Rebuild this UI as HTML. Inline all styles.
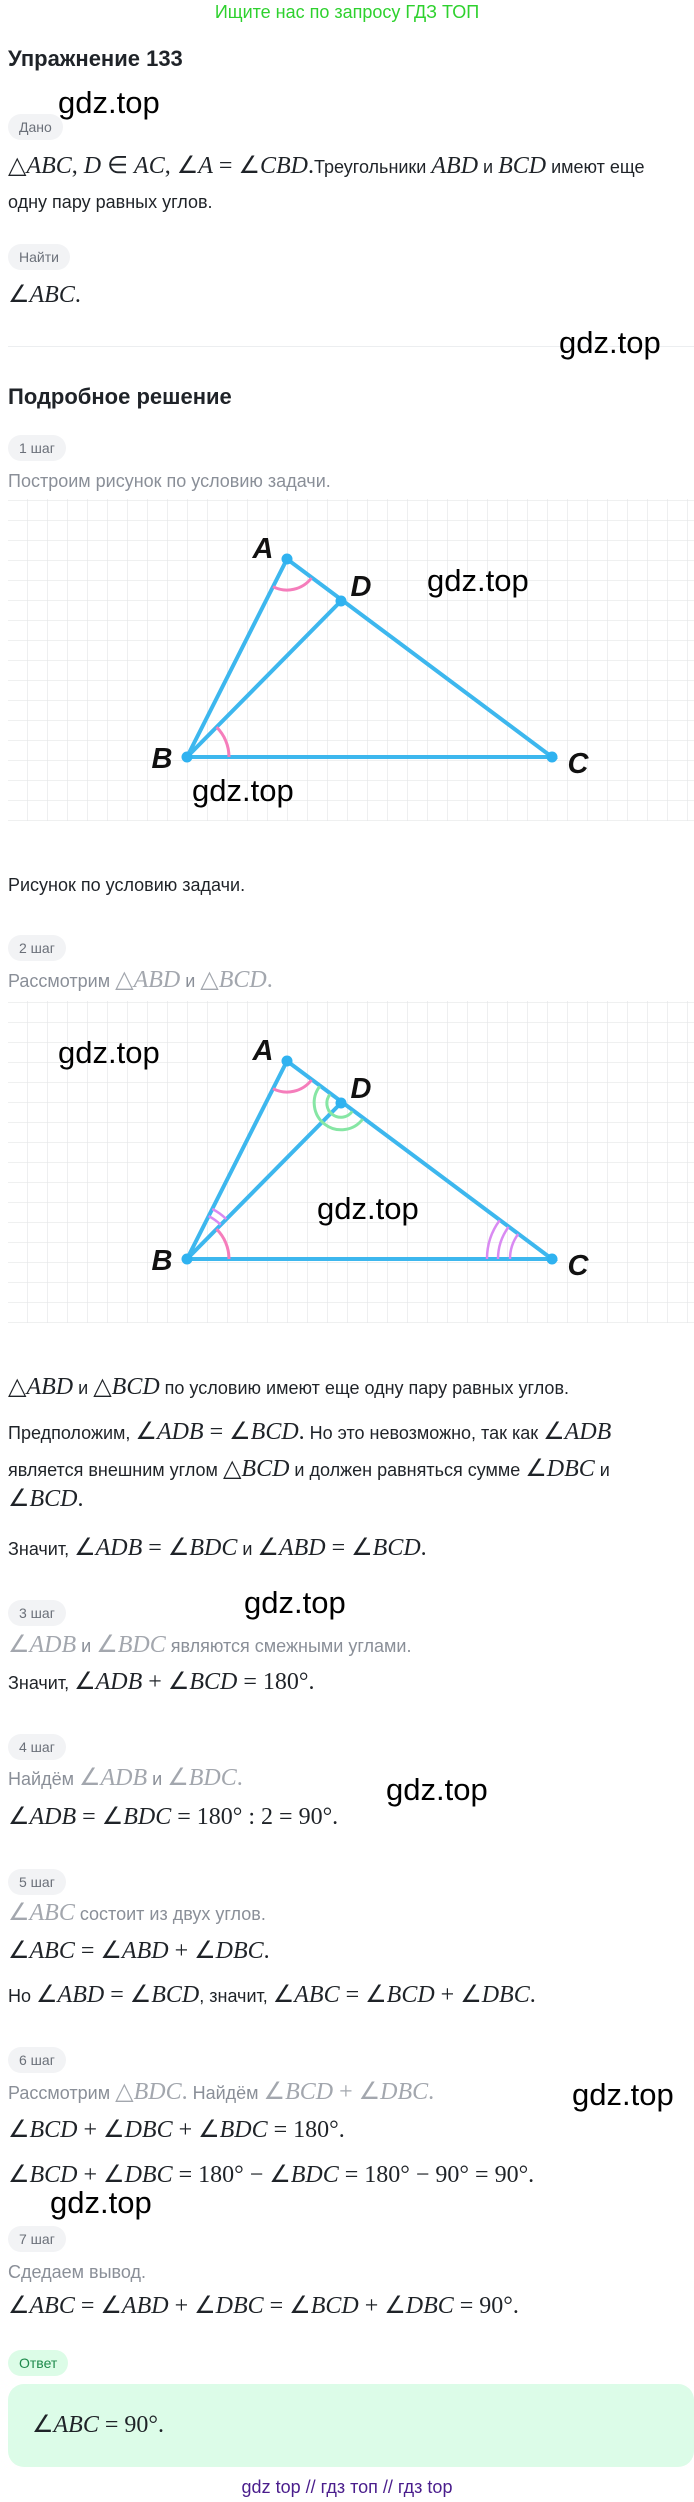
<!DOCTYPE html>
<html><head><meta charset="utf-8">
<style>
html,body{margin:0;padding:0;background:#fff;}
body{width:694px;height:2502px;position:relative;overflow:hidden;font-family:"Liberation Sans","DejaVu Sans",sans-serif;color:#1f2328;}
.l{position:absolute;left:8px;white-space:nowrap;line-height:30px;height:30px;font-size:18px;}
.g{color:#8a8f98;}
.g .m{color:#a3a7ae;}
.m{font-family:"Liberation Serif",serif;font-size:24px;}
.m i{font-style:italic;}
.pill{position:absolute;left:8px;height:26px;line-height:26px;border-radius:13px;background:#f2f3f5;color:#6b7079;font-size:14px;padding:0 11px;}
.wm{position:absolute;font-size:31px;color:#000;line-height:36px;white-space:nowrap;}
h1,h2{margin:0;position:absolute;left:8px;font-size:22px;font-weight:bold;line-height:30px;white-space:nowrap;}
svg{position:absolute;left:8px;}
</style></head><body>
<div style="position:absolute;top:0;left:0;width:694px;text-align:center;color:#2ed12e;font-size:18px;line-height:24px;">Ищите нас по запросу ГДЗ ТОП</div>
<h1 style="top:44px;">Упражнение 133</h1>
<div class="wm" style="left:58px;top:85px;">gdz.top</div>
<div class="pill" style="top:114px;">Дано</div>
<div class="l" style="top:151px;"><span class="m">△<i>ABC</i>, <i>D</i> ∈ <i>AC</i>, ∠<i>A</i> = ∠<i>CBD</i>.</span>Треугольники <span class="m"><i>ABD</i></span> и <span class="m"><i>BCD</i></span> имеют еще</div>
<div class="l" style="top:187px;">одну пару равных углов.</div>
<div class="pill" style="top:244px;">Найти</div>
<div class="l" style="top:280px;"><span class="m">∠<i>ABC</i>.</span></div>
<div style="position:absolute;left:8px;top:346px;width:686px;height:1px;background:#eceef0;"></div>
<div class="wm" style="left:559px;top:325px;">gdz.top</div>
<h2 style="top:382px;">Подробное решение</h2>
<div class="pill" style="top:435px;">1 шаг</div>
<div class="l g" style="top:466px;">Построим рисунок по условию задачи.</div>

<svg width="686" height="322" viewBox="8 499 686 322" style="top:499px;">
<defs><pattern id="gp" x="7" y="0" width="20" height="20" patternUnits="userSpaceOnUse"><path d="M0 0V20M0 0H20" stroke="#e5e6e8" stroke-width="1.3" fill="none"/></pattern></defs>
<rect x="8" y="499" width="686" height="322" fill="url(#gp)"/>
<g stroke="#3db7ee" stroke-width="4" stroke-linecap="round" fill="none">
<path d="M187 757L287 559L552 757Z M187 757L341 601"/></g>
<g stroke="#f57dbb" stroke-width="3" fill="none"><path d="M273 586.7A31 31 0 0 0 311.5 578"/><path d="M216.5 727.1A42 42 0 0 1 229 757"/></g>
<g fill="#2fb2f0"><circle cx="287" cy="559" r="5.5"/><circle cx="341" cy="601" r="5.5"/><circle cx="187" cy="757" r="5.5"/><circle cx="552" cy="757" r="5.5"/></g>
<g font-family="Liberation Sans,sans-serif" font-weight="bold" font-style="italic" font-size="29" fill="#111" text-anchor="middle"><text x="263" y="558">A</text><text x="361" y="596">D</text><text x="162" y="768">B</text><text x="578" y="773">C</text></g>
<g font-family="Liberation Sans,sans-serif" font-size="31" fill="#000"><text x="427" y="591">gdz.top</text><text x="192" y="801">gdz.top</text></g>
</svg>

<div class="l" style="top:870px;">Рисунок по условию задачи.</div>
<div class="pill" style="top:935px;">2 шаг</div>
<div class="l g" style="top:965px;">Рассмотрим <span class="m">△<i>ABD</i></span> и <span class="m">△<i>BCD</i>.</span></div>

<svg width="686" height="322" viewBox="8 499 686 322" style="top:1001px;">
<rect x="8" y="499" width="686" height="322" fill="url(#gp)"/>
<g stroke="#3db7ee" stroke-width="4" stroke-linecap="round" fill="none">
<path d="M187 757L287 559L552 757Z M187 757L341 601"/></g>
<g stroke="#f57dbb" stroke-width="3" fill="none"><path d="M273 586.7A31 31 0 0 0 311.5 578"/><path d="M216.5 727.1A42 42 0 0 1 229 757"/></g>
<g stroke="#d98af2" stroke-width="2.5" fill="none"><path d="M208.6 714.1A48 48 0 0 1 220.7 722.8"/><path d="M212.3 707A56 56 0 0 1 226.3 717.1"/>
<path d="M510 757A42 42 0 0 1 518.2 732"/><path d="M498 757A54 54 0 0 1 508.6 724.9"/><path d="M487 757A65 65 0 0 1 499.7 718.3"/></g>
<g stroke="#86e6a4" stroke-width="3" fill="none"><path d="M362.7 617.1A27 27 0 1 1 319.7 584.4"/><path d="M352.3 609.3A14 14 0 1 1 330 592.4"/></g>
<g fill="#2fb2f0"><circle cx="287" cy="559" r="5.5"/><circle cx="341" cy="601" r="5.5"/><circle cx="187" cy="757" r="5.5"/><circle cx="552" cy="757" r="5.5"/></g>
<g font-family="Liberation Sans,sans-serif" font-weight="bold" font-style="italic" font-size="29" fill="#111" text-anchor="middle"><text x="263" y="558">A</text><text x="361" y="596">D</text><text x="162" y="768">B</text><text x="578" y="773">C</text></g>
<g font-family="Liberation Sans,sans-serif" font-size="31" fill="#000"><text x="58" y="561">gdz.top</text><text x="317" y="717">gdz.top</text></g>
</svg>

<div class="l" style="top:1372px;"><span class="m">△<i>ABD</i></span> и <span class="m">△<i>BCD</i></span> по условию имеют еще одну пару равных углов.</div>
<div class="l" style="top:1417px;">Предположим, <span class="m">∠<i>ADB</i> = ∠<i>BCD</i>.</span> Но это невозможно, так как <span class="m">∠<i>ADB</i></span></div>
<div class="l" style="top:1454px;">является внешним углом <span class="m">△<i>BCD</i></span> и должен равняться сумме <span class="m">∠<i>DBC</i></span> и</div>
<div class="l" style="top:1484px;"><span class="m">∠<i>BCD</i>.</span></div>
<div class="l" style="top:1533px;">Значит, <span class="m">∠<i>ADB</i> = ∠<i>BDC</i></span> и <span class="m">∠<i>ABD</i> = ∠<i>BCD</i>.</span></div>
<div class="wm" style="left:244px;top:1585px;">gdz.top</div>
<div class="pill" style="top:1600px;">3 шаг</div>
<div class="l g" style="top:1630px;"><span class="m">∠<i>ADB</i></span> и <span class="m">∠<i>BDC</i></span> являются смежными углами.</div>
<div class="l" style="top:1667px;">Значит, <span class="m">∠<i>ADB</i> + ∠<i>BCD</i> = 180°.</span></div>
<div class="pill" style="top:1734px;">4 шаг</div>
<div class="l g" style="top:1763px;">Найдём <span class="m">∠<i>ADB</i></span> и <span class="m">∠<i>BDC</i>.</span></div>
<div class="wm" style="left:386px;top:1772px;">gdz.top</div>
<div class="l" style="top:1802px;"><span class="m">∠<i>ADB</i> = ∠<i>BDC</i> = 180° : 2 = 90°.</span></div>
<div class="pill" style="top:1869px;">5 шаг</div>
<div class="l g" style="top:1898px;"><span class="m">∠<i>ABC</i></span> состоит из двух углов.</div>
<div class="l" style="top:1936px;"><span class="m">∠<i>ABC</i> = ∠<i>ABD</i> + ∠<i>DBC</i>.</span></div>
<div class="l" style="top:1980px;">Но <span class="m">∠<i>ABD</i> = ∠<i>BCD</i></span>, значит, <span class="m">∠<i>ABC</i> = ∠<i>BCD</i> + ∠<i>DBC</i>.</span></div>
<div class="pill" style="top:2047px;">6 шаг</div>
<div class="l g" style="top:2077px;">Рассмотрим <span class="m">△<i>BDC</i>.</span> Найдём <span class="m">∠<i>BCD</i> + ∠<i>DBC</i>.</span></div>
<div class="wm" style="left:572px;top:2077px;">gdz.top</div>
<div class="l" style="top:2115px;"><span class="m">∠<i>BCD</i> + ∠<i>DBC</i> + ∠<i>BDC</i> = 180°.</span></div>
<div class="l" style="top:2160px;"><span class="m">∠<i>BCD</i> + ∠<i>DBC</i> = 180° − ∠<i>BDC</i> = 180° − 90° = 90°.</span></div>
<div class="wm" style="left:50px;top:2185px;">gdz.top</div>
<div class="pill" style="top:2226px;">7 шаг</div>
<div class="l g" style="top:2257px;">Сдедаем вывод.</div>
<div class="l" style="top:2291px;"><span class="m">∠<i>ABC</i> = ∠<i>ABD</i> + ∠<i>DBC</i> = ∠<i>BCD</i> + ∠<i>DBC</i> = 90°.</span></div>
<div class="pill" style="top:2350px;background:#dcfce7;color:#1f8a4c;">Ответ</div>
<div style="position:absolute;left:8px;top:2384px;width:686px;height:83px;border-radius:16px;background:#dcfce8;"></div>
<div class="l" style="left:32px;top:2410px;"><span class="m">∠<i>ABC</i> = 90°.</span></div>
<div style="position:absolute;left:0;top:2475px;width:694px;text-align:center;color:#4a1d8c;font-size:18px;line-height:24px;">gdz top // гдз топ // гдз top</div>
</body></html>
